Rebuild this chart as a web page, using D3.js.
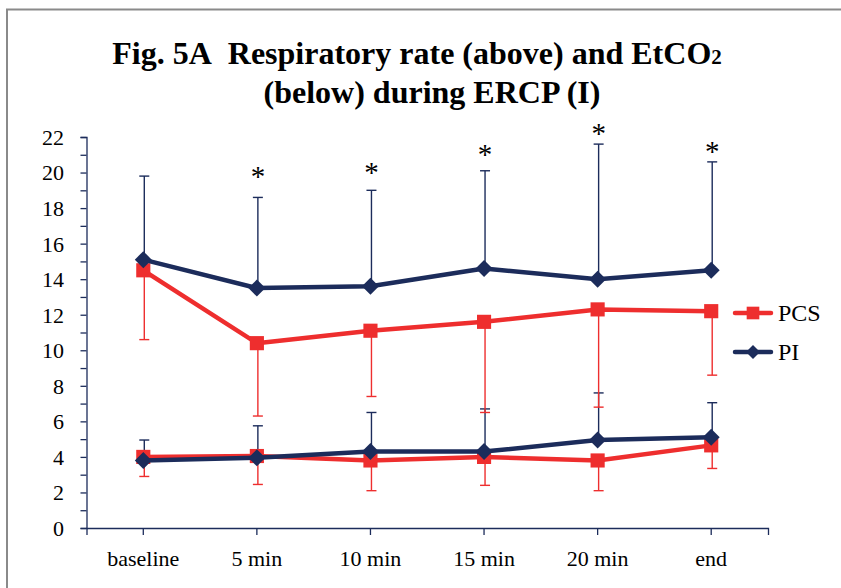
<!DOCTYPE html>
<html>
<head>
<meta charset="utf-8">
<script src="https://cdn.jsdelivr.net/npm/d3@7"></script>
<style>
  html, body { margin: 0; padding: 0; background: #fff; }
  svg { display: block; font-family: "Liberation Serif", "Times New Roman", serif; }
</style>
</head>
<body>
<svg id="chart" width="841" height="588"></svg>
<script>
// categories along the x axis
const timePoints = ['baseline', '5 min', '10 min', '15 min', '20 min', 'end'];

// respiratory rate (upper pair of lines)
const rrPCS = [14.5, 10.4, 11.1, 11.6, 12.3, 12.2];
const rrPCSLow = [10.6, 6.3, 7.4, 6.5, 6.8, 8.6];
const rrPI = [15.1, 13.5, 13.6, 14.6, 14.0, 14.5];
const rrPIHigh = [19.8, 18.6, 19.0, 20.1, 21.6, 20.6];

// EtCO2 (lower pair of lines)
const co2PCS = [4.0, 4.05, 3.8, 4.0, 3.8, 4.65];
const co2PCSLow = [2.9, 2.45, 2.1, 2.4, 2.1, 3.35];
const co2PI = [3.8, 3.95, 4.3, 4.3, 4.95, 5.1];
const co2PIHigh = [4.95, 5.75, 6.5, 6.7, 7.6, 7.05];

// significance markers (position in y units)
const starPoints = ['5 min', '10 min', '15 min', '20 min', 'end'];
const starLevels = [20.0, 20.2, 21.2, 22.4, 21.4];

const yTicks = d3.range(0, 23, 2);
const red = '#ee2e2e';
const navy = '#1c2c5b';

const svg = d3.select('#chart');

// outer frame (only top and left edges are visible)
svg.append('path')
  .attr('d', 'M7,588 V9.5 H841')
  .attr('fill', 'none')
  .attr('stroke', '#8a8a8a')
  .attr('stroke-width', 2);

// title
const title = svg.append('text')
  .attr('text-anchor', 'middle')
  .attr('font-weight', 'bold')
  .attr('font-size', 32);
const l1 = title.append('tspan').attr('x', 417).attr('y', 64);
l1.append('tspan').text('Fig. 5A\u00A0 Respiratory rate (above) and EtCO');
l1.append('tspan').attr('font-size', 21).text('2');
title.append('tspan').attr('x', 432).attr('y', 103).text('(below) during ERCP (I)');

const x = d3.scaleBand().domain(timePoints).range([86.5, 768]);
const y = d3.scaleLinear().domain([0, 22]).range([528, 137]);
const cx = d => x(d) + x.bandwidth() / 2;

// y axis
const yAxis = svg.append('g')
  .attr('transform', 'translate(86.5,0)')
  .call(d3.axisLeft(y).tickValues(d3.range(0, 23, 1)).tickSize(6).tickFormat(''));
yAxis.select('.domain').attr('stroke', navy).attr('stroke-width', 1.3);
yAxis.selectAll('.tick line').attr('stroke', navy).attr('stroke-width', 1.3);

svg.append('g').selectAll('text').data(yTicks).join('text')
  .attr('x', 64)
  .attr('y', d => y(d))
  .attr('dy', '0.36em')
  .attr('text-anchor', 'end')
  .attr('font-size', 22)
  .attr('fill', '#000')
  .text(d => d);

// x axis
const xAxis = svg.append('g')
  .attr('transform', 'translate(0,528)')
  .call(d3.axisBottom(x).tickSize(7).tickSizeOuter(7).tickFormat(''));
xAxis.select('.domain').attr('stroke', navy).attr('stroke-width', 1.3);
xAxis.selectAll('.tick line').attr('stroke', navy).attr('stroke-width', 1.3);

svg.append('g').selectAll('text').data(timePoints).join('text')
  .attr('x', d => cx(d))
  .attr('y', 566)
  .attr('text-anchor', 'middle')
  .attr('font-size', 22)
  .attr('fill', '#000')
  .text(d => d);

// error bars
function errorBars(mean, end, colour) {
  const g = svg.append('g').attr('stroke', colour).attr('stroke-width', 1.4);
  timePoints.forEach((t, i) => {
    const px = cx(t) + 1;
    g.append('line').attr('x1', px).attr('x2', px).attr('y1', y(mean[i])).attr('y2', y(end[i]));
    g.append('line').attr('x1', px - 5).attr('x2', px + 5).attr('y1', y(end[i])).attr('y2', y(end[i]));
  });
}

errorBars(rrPI, rrPIHigh, navy);
errorBars(co2PI, co2PIHigh, navy);
errorBars(rrPCS, rrPCSLow, red);
errorBars(co2PCS, co2PCSLow, red);

const line = d3.line().x((d, i) => cx(timePoints[i])).y(d => y(d));
const square = d3.symbol(d3.symbolSquare, 200);
const diamond = 'M0,-8.5L8.5,0L0,8.5L-8.5,0Z';

function series(values, colour, marker) {
  svg.append('path')
    .datum(values)
    .attr('fill', 'none')
    .attr('stroke', colour)
    .attr('stroke-width', 4.5)
    .attr('stroke-linejoin', 'round')
    .attr('d', line);
  svg.append('g').selectAll('path').data(values).join('path')
    .attr('transform', (d, i) => `translate(${cx(timePoints[i])},${y(d)})`)
    .attr('d', marker)
    .attr('fill', colour);
}

series(rrPCS, red, square);
series(co2PCS, red, square);
series(rrPI, navy, diamond);
series(co2PI, navy, diamond);

// asterisks
svg.append('g').selectAll('text').data(starPoints).join('text')
  .attr('x', d => cx(d) + 1)
  .attr('y', (d, i) => y(starLevels[i]) + 13)
  .attr('text-anchor', 'middle')
  .attr('font-size', 29)
  .attr('fill', '#000')
  .text('*');

// legend
const legendItems = [
  { name: 'PCS', colour: red, marker: square, y: 313 },
  { name: 'PI', colour: navy, marker: diamond, y: 352 }
];
const lg = svg.append('g').selectAll('g').data(legendItems).join('g')
  .attr('transform', d => `translate(0,${d.y})`);
lg.append('line')
  .attr('x1', 735).attr('x2', 771)
  .attr('stroke', d => d.colour)
  .attr('stroke-width', 4.5)
  .attr('stroke-linecap', 'round');
lg.append('path')
  .attr('transform', 'translate(753,0)')
  .attr('d', d => d.name === 'PI' ? 'M0,-7L7,0L0,7L-7,0Z' : d3.symbol(d3.symbolSquare, 160)())
  .attr('fill', d => d.colour);
lg.append('text')
  .attr('x', 778)
  .attr('dy', '0.35em')
  .attr('font-size', 24)
  .attr('fill', '#000')
  .text(d => d.name);
</script>
</body>
</html>
